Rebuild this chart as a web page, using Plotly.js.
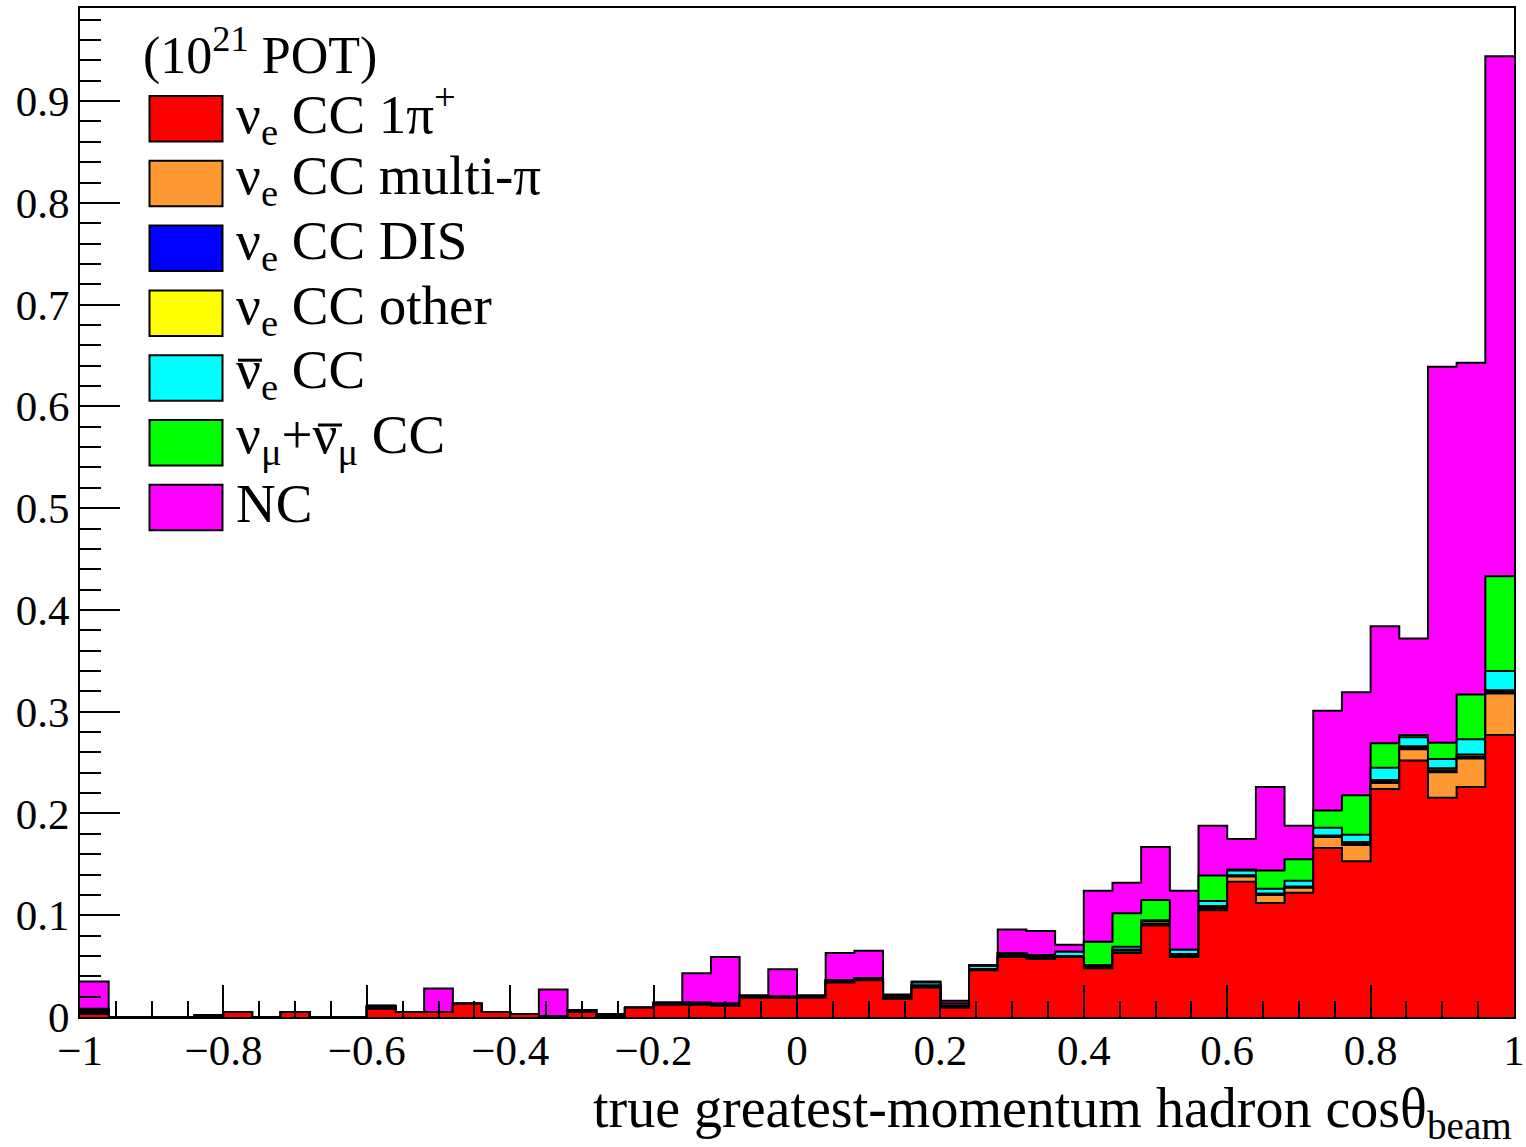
<!DOCTYPE html>
<html><head><meta charset="utf-8">
<script src="https://cdn.plot.ly/plotly-3.0.1.min.js"></script>
<style>html,body{margin:0;padding:0;background:#fff;} #chart{width:1526px;height:1147px;}</style>
</head><body><div id="chart"></div>
<script>
// ---- binning ----
const xMin = -1, xMax = 1, binWidth = 0.04;

// ---- legend / series labels ----
const headerText = "(10<sup>21</sup> POT)";
const axisTitleX = "true greatest-momentum hadron cosθ<sub>beam</sub>";
const seriesNames = [
  "ν<sub>e</sub> CC 1π<sup>+</sup>",
  "ν<sub>e</sub> CC multi-π",
  "ν<sub>e</sub> CC DIS",
  "ν<sub>e</sub> CC other",
  "ν<sub>e</sub> CC",
  "ν<sub>μ</sub>+ν<sub>μ</sub> CC",
  "NC"
];
const seriesColors = ["#ff0000", "#ff9933", "#0000ff", "#ffff00", "#00ffff", "#00ff00", "#ff00ff"];

// ---- per-bin values (50 bins from -1 to 1) ----
const nueCC1pi = [
  0.003, 0, 0, 0, 0.001, 0.005, 0, 0.005, 0, 0,
  0.008, 0.005, 0.005, 0.013, 0.005, 0.003, 0.001, 0.005, 0.001, 0.009,
  0.012, 0.012, 0.011, 0.019, 0.019, 0.019, 0.034, 0.036, 0.018, 0.029,
  0.009, 0.046, 0.059, 0.057, 0.059, 0.048, 0.063, 0.090, 0.059, 0.105,
  0.133, 0.112, 0.122, 0.166, 0.153, 0.224, 0.252, 0.2155, 0.226, 0.277
];
const nueCCmultipi = [
  0, 0, 0, 0, 0, 0, 0, 0, 0, 0,
  0, 0, 0, 0, 0, 0, 0, 0, 0, 0,
  0, 0, 0, 0, 0, 0, 0, 0, 0, 0,
  0, 0, 0, 0, 0, 0, 0.002, 0, 0, 0,
  0.005, 0.008, 0.005, 0.011, 0.016, 0.006, 0.011, 0.025, 0.028, 0.041
];
const nueCCDIS = [
  0.002, 0, 0, 0, 0.001, 0, 0, 0, 0, 0,
  0.002, 0, 0, 0, 0, 0, 0, 0.002, 0.002, 0,
  0.002, 0.002, 0.002, 0.002, 0.001, 0.002, 0.002, 0.002, 0.0015, 0.002,
  0.002, 0.001, 0.002, 0.002, 0.001, 0.0015, 0.001, 0.002, 0.0015, 0.002,
  0.001, 0.001, 0.001, 0.001, 0.0015, 0.0015, 0.0015, 0.002, 0.002, 0.0015
];
const nueCCother = [
  0.001, 0, 0, 0, 0, 0, 0, 0, 0, 0,
  0, 0, 0, 0, 0, 0, 0, 0, 0, 0,
  0, 0, 0, 0, 0, 0, 0, 0, 0.0015, 0,
  0.002, 0, 0.002, 0.002, 0, 0.0015, 0, 0.002, 0.0015, 0.002,
  0, 0, 0, 0, 0.0015, 0.0015, 0.0015, 0.002, 0.002, 0.0015
];
const nuebarCC = [
  0.001, 0, 0, 0, 0, 0, 0, 0, 0, 0,
  0.001, 0, 0, 0, 0, 0, 0, 0, 0, 0,
  0, 0, 0, 0, 0, 0, 0, 0, 0, 0.003,
  0, 0.003, 0, 0, 0.004, 0, 0.003, 0.001, 0.004, 0.005,
  0.005, 0.005, 0.006, 0.008, 0.007, 0.012, 0.009, 0.009, 0.015, 0.019
];
const numuCC = [
  0.001, 0, 0, 0, 0, 0, 0, 0, 0, 0,
  0, 0, 0, 0, 0, 0, 0, 0, 0, 0,
  0, 0, 0, 0, 0, 0, 0, 0, 0, 0,
  0, 0, 0, 0, 0, 0.023, 0.033, 0.020, 0, 0.025,
  0.001, 0.018, 0.021, 0.017, 0.039, 0.024, 0.002, 0.016, 0.044, 0.093
];
const NC = [
  0.027, 0, 0, 0, 0, 0, 0, 0, 0, 0,
  0, 0, 0.023, 0, 0, 0, 0.026, 0, 0, 0,
  0, 0.029, 0.046, 0, 0.027, 0, 0.027, 0.027, 0.001, 0.001,
  0.003, 0.001, 0.023, 0.0235, 0.007, 0.050, 0.030, 0.052, 0.058, 0.049,
  0.030, 0.082, 0.033, 0.098, 0.101, 0.115, 0.095, 0.3695, 0.326, 0.511
];

const series = [nueCC1pi, nueCCmultipi, nueCCDIS, nueCCother, nuebarCC, numuCC, NC];
const nBins = nueCC1pi.length;
const edges = [];
for (let i = 0; i <= nBins; i++) edges.push(+(xMin + i * binWidth).toFixed(4));

// cumulative stacks (THStack style)
const cum = [];
let run = new Array(nBins).fill(0);
series.forEach(s => { run = run.map((v, i) => v + s[i]); cum.push(run.slice()); });

const traces = [];
for (let k = series.length - 1; k >= 0; k--) {
  const y = cum[k].concat([cum[k][nBins - 1]]);
  traces.push({
    type: 'scatter', mode: 'lines', x: edges, y: y,
    line: { shape: 'hv', color: '#000', width: 2 },
    fill: 'tozeroy', fillcolor: seriesColors[k],
    name: seriesNames[k], showlegend: false, hoverinfo: 'skip'
  });
}

// ---- layout ----
const W = 1526, H = 1147, L = 80, R = 12, T = 8, B = 130;
const plotW = W - L - R, plotH = H - T - B;
const pxX = px => (px - L) / plotW;
const pxY = py => (H - B - py) / plotH;
const FONT = '"Liberation Serif", "Times New Roman", serif';

const shapes = [], annotations = [];
const boxX0 = 149.5, boxX1 = 222.5, rowTop0 = 96, rowStep = 64.8, boxH = 45.5;
seriesNames.forEach((nm, k) => {
  const top = rowTop0 + rowStep * k;
  shapes.push({ type: 'rect', xref: 'paper', yref: 'paper',
    x0: pxX(boxX0), x1: pxX(boxX1), y0: pxY(top + boxH), y1: pxY(top),
    fillcolor: seriesColors[k], line: { color: '#000', width: 2 } });
  annotations.push({ xref: 'paper', yref: 'paper', x: pxX(234), y: pxY(top + boxH / 2 - 4),
    xanchor: 'left', yanchor: 'middle', text: nm, showarrow: false,
    font: { family: FONT, size: 55, color: '#000' } });
});
// anti-neutrino bars over the nu glyphs (rows 5 and 6)
const barRows = [[4, 238, 262], [5, 318, 342]];
barRows.forEach(([k, xa, xb]) => {
  const yb = rowTop0 + rowStep * k + 5;
  shapes.push({ type: 'line', xref: 'paper', yref: 'paper',
    x0: pxX(xa), x1: pxX(xb), y0: pxY(yb), y1: pxY(yb),
    line: { color: '#000', width: 3 } });
});
annotations.push({ xref: 'paper', yref: 'paper', x: pxX(141), y: pxY(52),
  xanchor: 'left', yanchor: 'middle', text: headerText, showarrow: false,
  font: { family: FONT, size: 52, color: '#000' } });
annotations.push({ xref: 'paper', yref: 'paper', x: pxX(1514), y: pxY(1112),
  xanchor: 'right', yanchor: 'middle', text: axisTitleX, showarrow: false,
  font: { family: FONT, size: 56, color: '#000' } });

const layout = {
  width: W, height: H,
  margin: { l: L, r: R, t: T, b: B, pad: 0 },
  paper_bgcolor: '#fff', plot_bgcolor: '#fff',
  font: { family: FONT, size: 42, color: '#000' },
  showlegend: false,
  xaxis: {
    range: [xMin, xMax], tick0: -1, dtick: 0.2,
    ticks: 'inside', ticklen: 32, tickwidth: 2, tickcolor: '#000',
    minor: { dtick: 0.05, tick0: -1, ticks: 'inside', ticklen: 16, tickwidth: 2, tickcolor: '#000', showgrid: false },
    showgrid: false, zeroline: false, showline: true, linecolor: '#000', linewidth: 2, mirror: true,
    ticklabelstandoff: -6,
    tickfont: { family: FONT, size: 43, color: '#000' }
  },
  yaxis: {
    range: [0, 0.9915], tick0: 0, dtick: 0.1,
    ticks: 'inside', ticklen: 40, tickwidth: 2, tickcolor: '#000',
    minor: { dtick: 0.02, tick0: 0, ticks: 'inside', ticklen: 21, tickwidth: 2, tickcolor: '#000', showgrid: false },
    showgrid: false, zeroline: false, showline: true, linecolor: '#000', linewidth: 2, mirror: true,
    tickfont: { family: FONT, size: 43, color: '#000' }
  },
  shapes: shapes,
  annotations: annotations
};

Plotly.newPlot('chart', traces, layout, { displayModeBar: false, staticPlot: true });
</script>
</body></html>
